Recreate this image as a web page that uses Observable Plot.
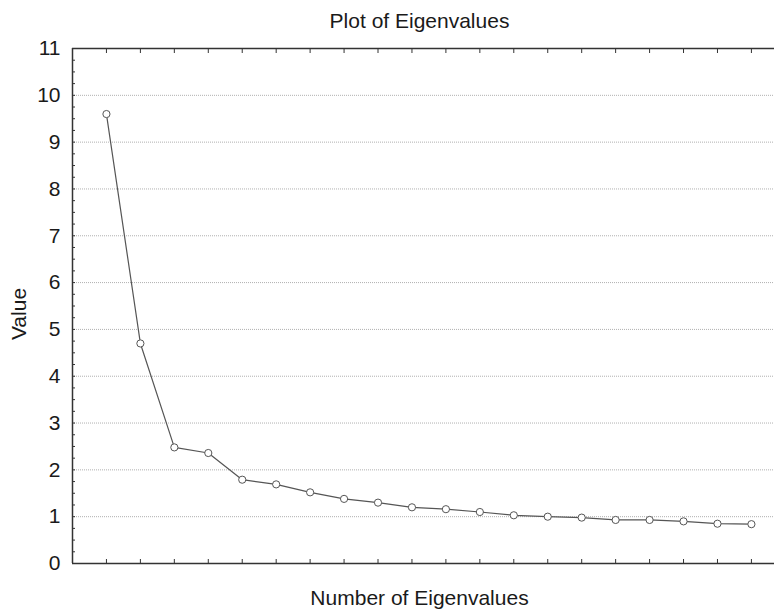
<!DOCTYPE html>
<html><head><meta charset="utf-8">
<script src="https://cdn.jsdelivr.net/npm/d3@7"></script>
<script src="https://cdn.jsdelivr.net/npm/@observablehq/plot@0.6"></script>
<style>
body{margin:0;background:#fff;font-family:"Liberation Sans",Arial,sans-serif;}
</style></head><body>
<div id="chart"></div>
<script>
const eigenNumber = [1,2,3,4,5,6,7,8,9,10,11,12,13,14,15,16,17,18,19,20];
const eigenValues = [9.60,4.70,2.48,2.36,1.79,1.69,1.52,1.38,1.30,1.20,1.16,1.10,1.03,1.00,0.98,0.93,0.93,0.90,0.85,0.84];
const yTicks = [0,1,2,3,4,5,6,7,8,9,10,11];
const gridValues = [1,2,3,4,5,6,7,8,9,10];
const minorTicks = d3.range(0, 11.001, 0.25);
const titleText = "Plot of Eigenvalues";
const xLabel = "Number of Eigenvalues";
const yLabel = "Value";

const data = eigenNumber.map((n, i) => ({n, v: eigenValues[i]}));
const axisColor = "#333";

const plot = Plot.plot({
  width: 774, height: 613,
  marginLeft: 72, marginRight: 0, marginTop: 48, marginBottom: 50,
  style: {fontFamily: "Liberation Sans, Arial, sans-serif", fontSize: "21px", color: "#1a1a1a", background: "#fff"},
  x: {domain: [0, 20.68]},
  y: {domain: [0, 11]},
  marks: [
    Plot.ruleY(gridValues, {stroke: "#b0b0b0", strokeDasharray: "1,1", strokeWidth: 1}),
    Plot.axisY(yTicks, {anchor: "left", tickSize: 0, tickPadding: 12, fontSize: 21, label: null}),
    Plot.axisY(minorTicks, {anchor: "left", tickSize: -3, tickFormat: () => "", label: null, stroke: axisColor}),
    Plot.axisX(eigenNumber, {anchor: "bottom", tickSize: -4, tickFormat: () => "", label: null, stroke: axisColor}),
    Plot.axisX(eigenNumber, {anchor: "top", tickSize: -4, tickFormat: () => "", label: null, stroke: axisColor}),
    Plot.ruleX([0], {stroke: axisColor, strokeWidth: 1.5}),
    Plot.ruleY([0], {stroke: axisColor, strokeWidth: 1.5}),
    Plot.ruleY([11], {stroke: axisColor, strokeWidth: 1.5}),
    Plot.line(data, {x: "n", y: "v", stroke: "#555", strokeWidth: 1.2}),
    Plot.dot(data, {x: "n", y: "v", r: 3.6, fill: "white", stroke: "#555", strokeWidth: 1}),
    Plot.text([titleText], {text: d => d, frameAnchor: "top", lineAnchor: "middle", textAnchor: "middle", dy: -27, dx: -4, fontSize: 21}),
    Plot.text([xLabel], {text: d => d, frameAnchor: "bottom", lineAnchor: "middle", textAnchor: "middle", dy: 35, dx: -4, fontSize: 21}),
    Plot.text([yLabel], {text: d => d, frameAnchor: "left", lineAnchor: "middle", textAnchor: "middle", dx: -53, dy: 8, rotate: -90, fontSize: 21})
  ]
});
document.getElementById("chart").appendChild(plot);
</script>
</body></html>
